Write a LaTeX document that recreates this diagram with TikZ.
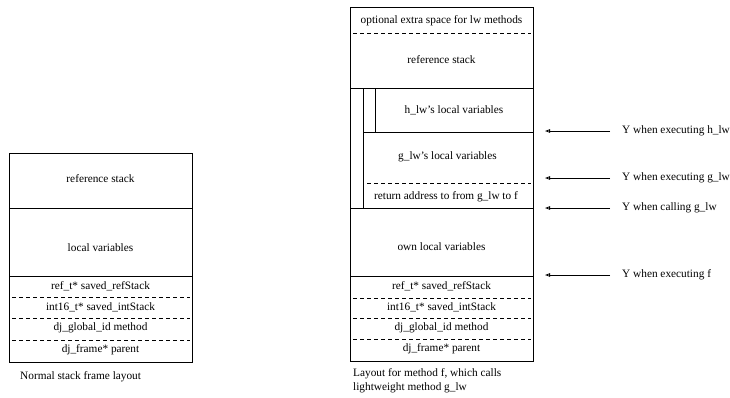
\documentclass[tikz,border=0pt]{standalone}
\usepackage{fontspec}
\setmainfont{Liberation Serif}
\usetikzlibrary{arrows.meta}
\begin{document}
\begin{tikzpicture}[x=1pt,y=-1pt,
  every node/.style={font=\fontsize{11.3}{14}\selectfont, inner sep=0pt},
  frame/.style={draw=black, line width=0.8pt},
  sep/.style={draw=black, line width=0.8pt, dash pattern=on 4pt off 3pt},
  arr/.style={draw=black, line width=0.8pt, -{Triangle[open, length=5pt, width=3.5pt]}},
  txt/.style={anchor=center},
  lbl/.style={anchor=west}]
\useasboundingbox (0,0) rectangle (730,397);

% ---------- left frame ----------
\draw[frame] (9,153) rectangle (192,362);
\draw[frame] (9,208) -- (192,208);
\draw[frame] (9,276) -- (192,276);
\draw[sep] (12,297) -- (190,297);
\draw[sep] (12,318) -- (190,318);
\draw[sep] (12,340) -- (190,340);
\node[txt] (lref) at (100.5,179) {reference stack};
\node[txt] (lloc) at (100.5,248) {local variables};
\node[txt] (lrs) at (100.5,286) {ref\_t* saved\_refStack};
\node[txt] (lis) at (100.5,307) {int16\_t* saved\_intStack};
\node[txt] (lgi) at (100.5,328) {dj\_global\_id method};
\node[txt] (lpa) at (100.5,350) {dj\_frame* parent};
\node[lbl] (lcap) at (20,377) {Normal stack frame layout};

% ---------- right frame ----------
\draw[frame] (350,7) rectangle (533,361);
\draw[sep] (353,33) -- (531,33);
\draw[frame] (350,88) -- (533,88);
\draw[frame] (363,88) -- (363,208);
\draw[frame] (375,88) -- (375,132);
\draw[frame] (363,132) -- (533,132);
\draw[sep] (367,183) -- (531,183);
\draw[frame] (350,208) -- (533,208);
\draw[frame] (350,276) -- (533,276);
\draw[sep] (353,298) -- (531,298);
\draw[sep] (353,318) -- (531,318);
\draw[sep] (353,339) -- (531,339);
\node[txt] (ropt) at (441.5,21) {optional extra space for lw methods};
\node[txt] (rref) at (441.5,60) {reference stack};
\node[txt] (rh) at (454,110) {h\_lw’s local variables};
\node[txt] (rg) at (447.5,157) {g\_lw’s local variables};
\node[txt] (rret) at (446,197) {return address to from g\_lw to f};
\node[txt] (rown) at (441.5,247) {own local variables};
\node[txt] (rrs) at (441.5,286) {ref\_t* saved\_refStack};
\node[txt] (ris) at (441.5,307) {int16\_t* saved\_intStack};
\node[txt] (rgi) at (441.5,328) {dj\_global\_id method};
\node[txt] (rpa) at (441.5,349) {dj\_frame* parent};
\node[lbl, align=left, anchor=north west] (rcap) at (353,368) {Layout for method f, which calls\\lightweight method g\_lw};

% ---------- pointers ----------
\node[lbl] (y1) at (622,131) {Y when executing h\_lw};
\node[lbl] (y2) at (622,178) {Y when executing g\_lw};
\node[lbl] (y3) at (622,208) {Y when calling g\_lw};
\node[lbl] (y4) at (622,275) {Y when executing f};
\coordinate (t1) at (545,131);
\coordinate (t2) at (545,178);
\coordinate (t3) at (545,208);
\coordinate (t4) at (545,275);
\draw[arr] ([xshift=-12pt]y1.west) -- (t1);
\draw[arr] ([xshift=-12pt]y2.west) -- (t2);
\draw[arr] ([xshift=-12pt]y3.west) -- (t3);
\draw[arr] ([xshift=-12pt]y4.west) -- (t4);
\end{tikzpicture}
\end{document}
